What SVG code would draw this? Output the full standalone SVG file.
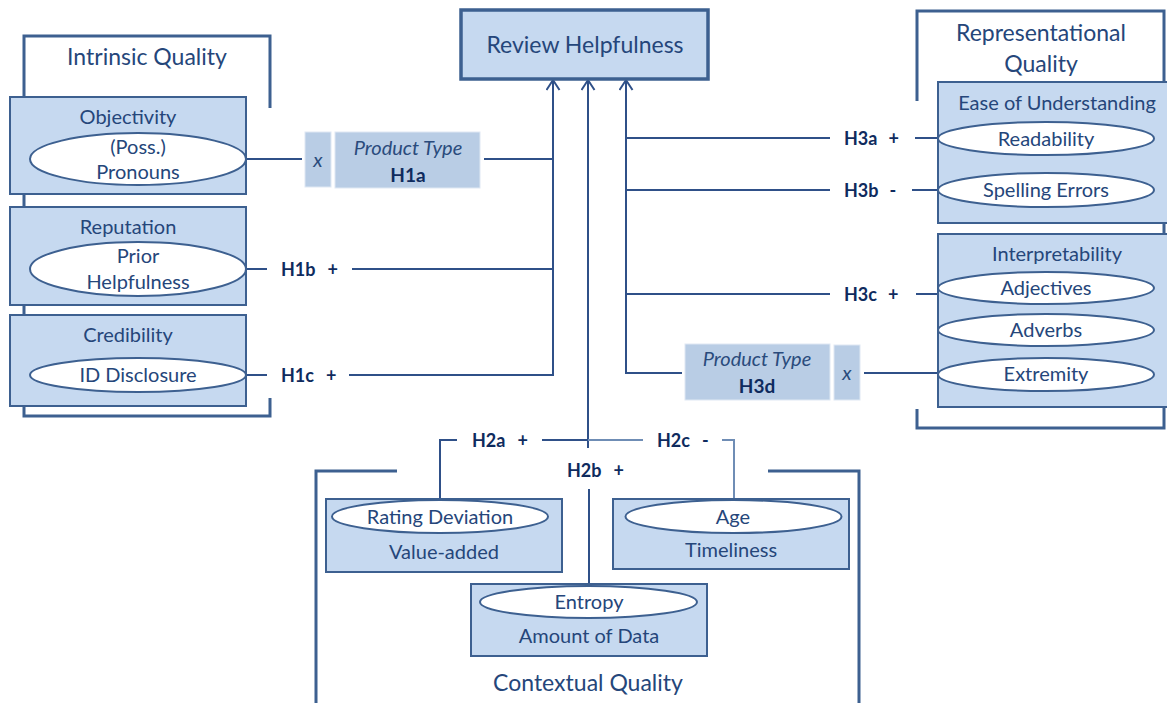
<svg xmlns="http://www.w3.org/2000/svg" width="1167" height="703" viewBox="0 0 1167 703">
<style>
  text { font-family: Lato, "Open Sans", sans-serif; fill: #25467a; }
  .t { font-size: 20px; text-anchor: middle; }
  .big { font-size: 23px; text-anchor: middle; }
  .h { font-size: 18px; font-weight: bold; fill: #0f2b5e; }
  .hc { font-size: 19px; font-weight: bold; fill: #0f2b5e; text-anchor: middle; }
  .it { font-size: 20px; font-style: italic; text-anchor: middle; fill: #2a4b7c; }
  .box { fill: #c6d9f0; stroke: #3d6090; stroke-width: 2; }
  .ell { fill: #ffffff; stroke: #3d6090; stroke-width: 2; }
  .pt { fill: #b9cde5; stroke: #dfe8f3; stroke-width: 1; }
  .brk { fill: none; stroke: #3d6090; stroke-width: 3; }
  .ln { fill: none; stroke: #2f5088; stroke-width: 2; }
  .lnl { fill: none; stroke: #6f8db5; stroke-width: 2; }
</style>
<defs>
  <marker id="arr" markerUnits="userSpaceOnUse" markerWidth="16" markerHeight="16" refX="11" refY="7" orient="auto">
    <path d="M1,0.5 L11,7 L1,13.5" fill="none" stroke="#2f5088" stroke-width="2"/>
  </marker>
</defs>
<rect width="1167" height="703" fill="#ffffff"/>

<!-- brackets -->
<g id="intrinsic-quality">
  <path class="brk" d="M270,108 V36 H24 V416 H270 V398"/>
  <text class="big" x="147" y="65">Intrinsic Quality</text>
</g>
<g id="representational-quality">
  <path class="brk" d="M917,101 V11 H1164 V428 H917 V409"/>
  <text class="big" x="1041" y="41">Representational</text>
  <text class="big" x="1041" y="72">Quality</text>
</g>
<g id="contextual-quality">
  <path class="brk" d="M397,471 H316 V706"/>
  <path class="brk" d="M768,471 H859 V706"/>
  <text class="big" x="588" y="691">Contextual Quality</text>
</g>

<!-- connectors -->
<g id="connectors">
  <!-- H1 -->
  <path class="ln" d="M246,159 H302"/>
  <path class="ln" d="M484,159 H553"/>
  <path class="ln" d="M246,269 H267"/>
  <path class="ln" d="M352,269 H553"/>
  <path class="ln" d="M246,375 H267"/>
  <path class="ln" d="M349,375 H553 V80" marker-end="url(#arr)"/>
  <!-- H2 -->
  <path class="ln" d="M588,448 V80" marker-end="url(#arr)"/>
  <path class="ln" d="M440,499 V440 H457"/>
  <path class="ln" d="M542,440 H588"/>
  <path class="lnl" d="M588,440 H643"/>
  <path class="lnl" d="M722,440 H734 V499"/>
  <path class="ln" d="M589,489 V584"/>
  <!-- H3 -->
  <path class="ln" d="M682,373 H626 V80" marker-end="url(#arr)"/>
  <path class="ln" d="M626,138 H830"/>
  <path class="ln" d="M915,138 H938"/>
  <path class="ln" d="M626,190 H830"/>
  <path class="ln" d="M912,190 H938"/>
  <path class="ln" d="M626,294 H830"/>
  <path class="ln" d="M916,294 H938"/>
  <path class="ln" d="M864,373 H938"/>
  <!-- labels -->
  <text class="h" x="281" y="276">H1b<tspan dx="12">+</tspan></text>
  <text class="h" x="281" y="382">H1c<tspan dx="12">+</tspan></text>
  <text class="h" x="472" y="447">H2a<tspan dx="12">+</tspan></text>
  <text class="h" x="567" y="477">H2b<tspan dx="12">+</tspan></text>
  <text class="h" x="657" y="447">H2c<tspan dx="12">-</tspan></text>
  <text class="h" x="844" y="145">H3a<tspan dx="11">+</tspan></text>
  <text class="h" x="844" y="197">H3b<tspan dx="11">-</tspan></text>
  <text class="h" x="844" y="301">H3c<tspan dx="11">+</tspan></text>
</g>

<!-- target -->
<g id="review-helpfulness">
  <rect x="461" y="10" width="247" height="69" fill="#c6d9f0" stroke="#3d6090" stroke-width="3.5"/>
  <text class="big" x="585" y="53">Review Helpfulness</text>
</g>

<!-- moderators -->
<g id="moderator-h1a">
  <rect class="pt" x="305" y="132" width="26" height="55"/>
  <text class="it" x="318" y="167">x</text>
  <rect class="pt" x="335" y="132" width="145" height="56"/>
  <text class="it" x="408" y="155">Product Type</text>
  <text class="hc" x="408" y="182">H1a</text>
</g>
<g id="moderator-h3d">
  <rect class="pt" x="685" y="344" width="145" height="56"/>
  <text class="it" x="757" y="366">Product Type</text>
  <text class="hc" x="757" y="393">H3d</text>
  <rect class="pt" x="834" y="345" width="26" height="55"/>
  <text class="it" x="847" y="380">x</text>
</g>

<!-- intrinsic -->
<g id="objectivity">
  <rect class="box" x="10" y="97" width="236" height="97"/>
  <text class="t" x="128" y="124">Objectivity</text>
  <ellipse class="ell" cx="138" cy="159" rx="108" ry="26"/>
  <text class="t" x="138" y="154">(Poss.)</text>
  <text class="t" x="138" y="179">Pronouns</text>
</g>
<g id="reputation">
  <rect class="box" x="10" y="207" width="236" height="98"/>
  <text class="t" x="128" y="234">Reputation</text>
  <ellipse class="ell" cx="138" cy="269" rx="108" ry="27"/>
  <text class="t" x="138" y="263">Prior</text>
  <text class="t" x="138" y="289">Helpfulness</text>
</g>
<g id="credibility">
  <rect class="box" x="10" y="315" width="236" height="91"/>
  <text class="t" x="128" y="342">Credibility</text>
  <ellipse class="ell" cx="138" cy="375" rx="108" ry="17"/>
  <text class="t" x="138" y="382">ID Disclosure</text>
</g>

<!-- representational -->
<g id="ease-of-understanding">
  <rect class="box" x="938" y="82" width="235" height="141"/>
  <text class="t" x="1057" y="110">Ease of Understanding</text>
  <ellipse class="ell" cx="1046" cy="138.5" rx="108" ry="16.5"/>
  <text class="t" x="1046" y="146">Readability</text>
  <ellipse class="ell" cx="1046" cy="190" rx="108" ry="17"/>
  <text class="t" x="1046" y="197">Spelling Errors</text>
</g>
<g id="interpretability">
  <rect class="box" x="938" y="234" width="235" height="173"/>
  <text class="t" x="1057" y="261">Interpretability</text>
  <ellipse class="ell" cx="1046" cy="288" rx="108" ry="16"/>
  <text class="t" x="1046" y="295">Adjectives</text>
  <ellipse class="ell" cx="1046" cy="330" rx="108" ry="16"/>
  <text class="t" x="1046" y="337">Adverbs</text>
  <ellipse class="ell" cx="1046" cy="374.5" rx="108" ry="16.5"/>
  <text class="t" x="1046" y="381">Extremity</text>
</g>

<!-- contextual -->
<g id="value-added">
  <rect class="box" x="326" y="499" width="236" height="73"/>
  <ellipse class="ell" cx="440" cy="516.5" rx="108" ry="16.5"/>
  <text class="t" x="440" y="524">Rating Deviation</text>
  <text class="t" x="444" y="559">Value-added</text>
</g>
<g id="timeliness">
  <rect class="box" x="613" y="499" width="236" height="70"/>
  <ellipse class="ell" cx="733.5" cy="516.5" rx="108" ry="16.5"/>
  <text class="t" x="733" y="524">Age</text>
  <text class="t" x="731" y="557">Timeliness</text>
</g>
<g id="amount-of-data">
  <rect class="box" x="471" y="584" width="236" height="72"/>
  <ellipse class="ell" cx="588.5" cy="602" rx="108.5" ry="16"/>
  <text class="t" x="589" y="609">Entropy</text>
  <text class="t" x="589" y="643">Amount of Data</text>
</g>
</svg>
